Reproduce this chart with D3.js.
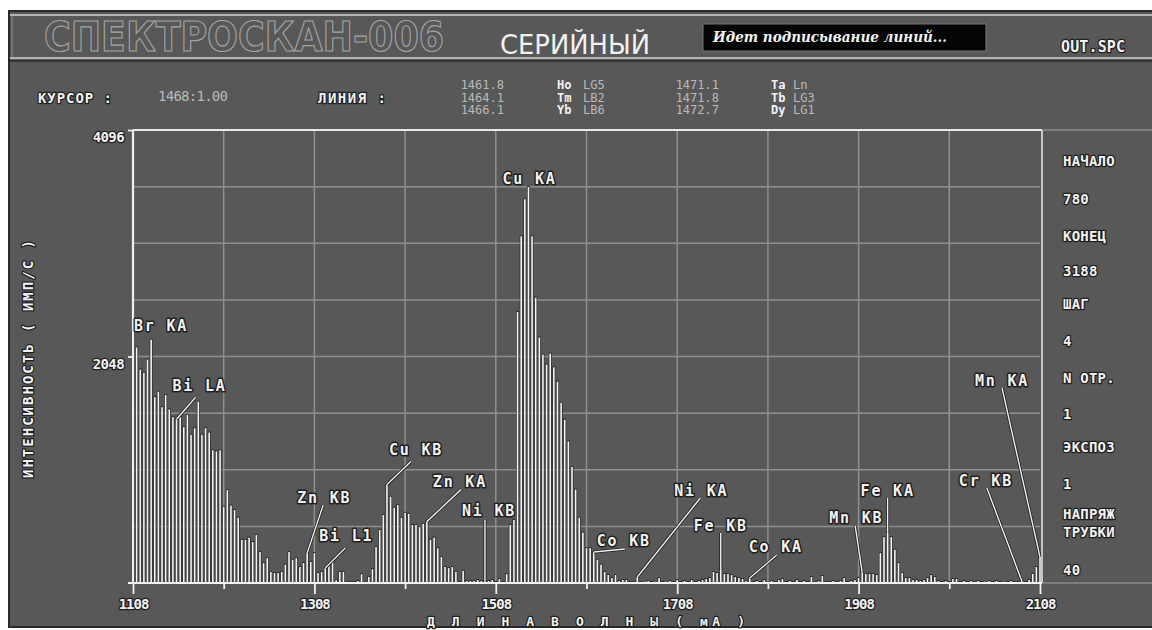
<!DOCTYPE html>
<html>
<head>
<meta charset="utf-8">
<script src="https://cdn.jsdelivr.net/npm/d3@7"></script>
<style>
  html, body { margin: 0; padding: 0; background: #ffffff; }
  svg { display: block; font-family: "DejaVu Sans Mono", monospace; }
</style>
</head>
<body>
<svg id="chart" width="1152" height="630"></svg>
<script>
// ---- spectrum: intensity (counts/s) per channel, 1108..2108 mA in steps of 4 ----
const wavelengthStart = 1108;
const wavelengthStep = 4;
const intensity = [
  2250, 2130, 1930, 1900, 2020, 2200, 1680, 1730, 1590, 1700,
  1570, 1500, 1480, 1500, 1410, 1520, 1340, 1400, 1640, 1340,
  1400, 1360, 1200, 1190, 1200,  690,  840,  700,  660,  590,
   390,  390,  410,  370,  435,  280,  180,  225,  100,   90,
    90,  100,  165,  280,  210,  225,  145,  180,  270,  190,
   270,   90,  100,  135,  165,  190,   25,  100,  100,   10,
    10,   10,   18,   80,   10,   55,  125,  325,  480,  615,
   890,  780,  680,  705,  590,  635,  625,  525,  525,  505,
   535,  555,  390,  410,  315,  235,  145,  135,  145,  100,
    10,  110,   18,   18,   18,   27,   18,    9,   18,   27,
     9,   36,    9,   80,  525,  570, 2450, 3135, 3470, 3580,
  3135, 2580, 2220, 2065, 1975, 2075, 1950, 1820, 1630, 1475,
  1280, 1050,  845,  590,  455,  315,  315,  280,  210,  165,
   100,   72,   45,   72,   18,   27,   27,    9,    9,   54,
     9,    0,   18,    9,    0,   45,    9,    0,   18,    9,
    27,    9,   18,    9,   27,    9,   18,   27,   36,   45,
   100,   90,  118,   82,   82,   72,   54,   45,   36,   18,
    45,    9,   18,    9,   27,    0,   18,    9,   27,   36,
     9,   18,    9,   27,    9,   18,    9,   54,    9,   18,
    63,    9,    9,   18,    9,   18,   45,    9,   18,   27,
    45,   91,   82,   82,   82,   72,  270,  415,  455,  415,
   300,  180,   90,   45,   45,   27,   27,   18,   27,   45,
    72,   54,   18,    9,   18,    9,   36,   36,    9,   18,
     9,   18,    9,   18,    9,    0,   18,    9,   18,    9,
     0,    9,   18,    9,    9,   18,    9,   27,   82,  145,
   236
];

// ---- axes ----
const xGridValues = [1108, 1208, 1308, 1408, 1508, 1608, 1708, 1808, 1908, 2008, 2108];
const xTickLabels = ["1108", "1308", "1508", "1708", "1908", "2108"];
const yGridValues = [0, 512, 1024, 1536, 2048, 2560, 3072, 3584, 4096];
const yTickLabels = ["2048", "4096"];
const xTitle = "Д Л И Н А   В О Л Н Ы   ( мА )";
const yTitle = "ИНТЕНСИВНОСТЬ ( ИМП/С )";

// ---- identified lines ----
const peakNames = ["Br KA", "Bi LA", "Zn KB", "Bi L1", "Cu KB", "Zn KA", "Ni KB", "Cu KA",
                   "Co KB", "Ni KA", "Fe KB", "Co KA", "Mn KB", "Fe KA", "Cr KB", "Mn KA"];
const peakWavelengths = [1108, 1156, 1300, 1320, 1388, 1432, 1496, 1544,
                         1616, 1664, 1756, 1788, 1912, 1940, 2088, 2108];

// ---- header texts ----
const deviceName = "СПЕКТРОСКАН-006";
const modeName = "СЕРИЙНЫЙ";
const statusText = "Идет подписывание линий...";
const fileName = "OUT.SPC";
const cursorCaption = "КУРСОР :";
const cursorValue = "1468:1.00";
const lineCaption = "ЛИНИЯ :";
const lineWavelengths = ["1461.8", "1464.1", "1466.1", "1471.1", "1471.8", "1472.7"];
const lineElements = ["Ho", "Tm", "Yb", "Ta", "Tb", "Dy"];
const lineSeries = ["LG5", "LB2", "LB6", "Ln", "LG3", "LG1"];

// ---- measurement parameters panel ----
const panelNames = ["НАЧАЛО", "КОНЕЦ", "ШАГ", "N ОТР.", "ЭКСПОЗ", "НАПРЯЖ|ТРУБКИ"];
const panelValues = ["780", "3188", "4", "1", "1", "40"];

// ---------------------------------------------------------------------------
const svg = d3.select("#chart");
const W = 1152;
const plot = { left: 133, right: 1040, top: 130, bottom: 583 };
const BG = "#585858", GRID = "#8f8f8f", INK = "#f2f2f2", DIM = "#b9b9b9", HALO = "#1f1f1f";
const MONO = "'DejaVu Sans Mono', monospace";

const x = d3.scaleLinear().domain([1108, 2108]).range([plot.left, plot.right]);
const y = d3.scaleLinear().domain([0, 4096]).range([plot.bottom, plot.top]);

const spectrum = intensity.map((v, i) => ({ wl: wavelengthStart + i * wavelengthStep, v }));
const valueAt = wl => spectrum.find(d => d.wl === wl).v;

function halo(sel, w) {
  return sel.attr("stroke", HALO).attr("stroke-width", w || 3)
            .attr("stroke-linejoin", "round").attr("paint-order", "stroke");
}
function hline(x1, x2, yy, color, w) {
  svg.append("line").attr("x1", x1).attr("x2", x2).attr("y1", yy).attr("y2", yy)
    .attr("stroke", color).attr("stroke-width", w);
}
function vline(xx, y1, y2, color, w) {
  svg.append("line").attr("x1", xx).attr("x2", xx).attr("y1", y1).attr("y2", y2)
    .attr("stroke", color).attr("stroke-width", w);
}

// screen frame
svg.append("rect").attr("x", 8).attr("y", 10).attr("width", W - 8).attr("height", 618).attr("fill", BG);
hline(8, W, 11, "#2a2a2a", 2);
hline(10, W, 15, "#b4b4b4", 2);
hline(10, W, 58, "#b4b4b4", 2);
hline(10, W, 61, "#2e2e2e", 1.5);
vline(9, 10, 628, "#2a2a2a", 2);
vline(12, 16, 57, "#8a8a8a", 1);
hline(8, W, 627, "#2a2a2a", 2);

// ---- header ----
svg.append("text").text(deviceName)
  .attr("x", 44).attr("y", 51).style("font-family", "'DejaVu Sans', sans-serif").attr("font-weight", "bold")
  .attr("font-size", 40).attr("textLength", 400).attr("lengthAdjust", "spacingAndGlyphs")
  .attr("fill", BG).attr("stroke", "#a3a3a3").attr("stroke-width", 1.2);
svg.append("text").text(modeName)
  .attr("x", 500).attr("y", 54).style("font-family", "'DejaVu Sans', sans-serif")
  .attr("font-size", 26).attr("textLength", 150).attr("lengthAdjust", "spacingAndGlyphs")
  .attr("fill", INK);
svg.append("rect").attr("x", 703).attr("y", 24).attr("width", 283).attr("height", 27)
  .attr("fill", "#050505").attr("stroke", "#777").attr("stroke-width", 1);
svg.append("text").text(statusText)
  .attr("x", 713).attr("y", 42).style("font-family", "'DejaVu Serif', serif").attr("font-style", "italic")
  .attr("font-weight", "bold").attr("font-size", 14).attr("textLength", 234).attr("lengthAdjust", "spacingAndGlyphs")
  .attr("fill", INK);
svg.append("text").text(fileName)
  .attr("x", 1061).attr("y", 52).attr("font-size", 15).attr("font-weight", "bold").attr("textLength", 64)
  .attr("fill", INK).call(halo, 2.5);

// cursor / line row
svg.append("text").text(cursorCaption).attr("x", 38).attr("y", 103).attr("font-size", 14)
  .attr("font-weight", "bold").attr("textLength", 74).attr("fill", INK).call(halo, 2.5);
svg.append("text").text(cursorValue).attr("x", 158).attr("y", 101).attr("font-size", 14)
  .attr("textLength", 70).attr("fill", DIM);
svg.append("text").text(lineCaption).attr("x", 318).attr("y", 103).attr("font-size", 14)
  .attr("font-weight", "bold").attr("textLength", 68).attr("fill", INK).call(halo, 2.5);

const lineCols = [{ num: 504, el: 557, ser: 583 }, { num: 719, el: 771, ser: 793 }];
lineWavelengths.forEach((wl, i) => {
  const col = lineCols[Math.floor(i / 3)];
  const by = 89 + (i % 3) * 12.5;
  svg.append("text").text(wl).attr("x", col.num).attr("y", by).attr("text-anchor", "end")
    .attr("font-size", 12).attr("fill", DIM);
  svg.append("text").text(lineElements[i]).attr("x", col.el).attr("y", by)
    .attr("font-size", 12).attr("font-weight", "bold").attr("fill", INK);
  svg.append("text").text(lineSeries[i]).attr("x", col.ser).attr("y", by)
    .attr("font-size", 12).attr("fill", DIM);
});

// ---- plot area ----
const g = svg.append("g");

// grid
g.selectAll("line.vgrid").data(xGridValues.slice(1, -1)).join("line").attr("class", "vgrid")
  .attr("x1", d => x(d)).attr("x2", d => x(d)).attr("y1", plot.top).attr("y2", plot.bottom)
  .attr("stroke", GRID).attr("stroke-width", 1.5);
g.selectAll("line.hgrid").data(yGridValues.slice(1, -1)).join("line").attr("class", "hgrid")
  .attr("x1", plot.left).attr("x2", plot.right).attr("y1", d => y(d)).attr("y2", d => y(d))
  .attr("stroke", GRID).attr("stroke-width", 1.5);

// panel separators on the right
hline(plot.right + 3, W, plot.top, "#8a8a8a", 1.5);
hline(plot.right + 3, W, plot.bottom, "#8a8a8a", 1.5);

// spectrum bars (dark edge + white core)
const bars = spectrum.filter(d => d.v > 0);
g.selectAll("rect.edge").data(bars).join("rect").attr("class", "edge")
  .attr("x", d => x(d.wl) - 1.5).attr("width", 3)
  .attr("y", d => y(d.v) - 1).attr("height", d => plot.bottom - y(d.v) + 1)
  .attr("fill", "#2c2c2c");
g.selectAll("rect.bar").data(bars).join("rect").attr("class", "bar")
  .attr("x", d => x(d.wl) - 0.8).attr("width", 1.6)
  .attr("y", d => y(d.v)).attr("height", d => plot.bottom - y(d.v))
  .attr("fill", "#f4f4f4");

// frame: top, left, right
g.append("line").attr("x1", plot.left).attr("x2", plot.right + 2).attr("y1", plot.top).attr("y2", plot.top)
  .attr("stroke", "#e8e8e8").attr("stroke-width", 2);
g.append("line").attr("x1", plot.left).attr("x2", plot.left).attr("y1", plot.top).attr("y2", plot.bottom)
  .attr("stroke", "#f0f0f0").attr("stroke-width", 2.2);
g.append("line").attr("x1", plot.right + 2).attr("x2", plot.right + 2).attr("y1", plot.top).attr("y2", plot.bottom)
  .attr("stroke", "#e0e0e0").attr("stroke-width", 1.6);

// x axis
const xAxis = d3.axisBottom(x).tickValues(xGridValues).tickSize(6).tickPadding(10)
  .tickFormat(d => xTickLabels.includes(String(d)) ? String(d) : "");
const xa = g.append("g").attr("transform", `translate(0,${plot.bottom})`).call(xAxis);
xa.select(".domain").remove();
xa.selectAll(".tick line").attr("stroke", "#f0f0f0").attr("stroke-width", 1.8)
  .attr("y2", d => xTickLabels.includes(String(d)) ? 11 : 6);
xa.selectAll(".tick text").attr("fill", INK).attr("font-size", 14).style("font-family", MONO)
  .attr("font-weight", "bold").attr("letter-spacing", -1).call(halo, 2.5);
g.append("line").attr("x1", plot.left - 5).attr("x2", plot.right + 2).attr("y1", plot.bottom).attr("y2", plot.bottom)
  .attr("stroke", "#f4f4f4").attr("stroke-width", 2.2);

// y axis
const yAxis = d3.axisLeft(y).tickValues(yTickLabels.map(Number)).tickSize(5).tickPadding(4)
  .tickFormat(d => String(d));
const ya = g.append("g").attr("transform", `translate(${plot.left},0)`).call(yAxis);
ya.select(".domain").remove();
ya.selectAll(".tick line").attr("stroke", "#f0f0f0").attr("stroke-width", 1.8);
ya.selectAll(".tick text").attr("fill", INK).attr("font-size", 14).style("font-family", MONO)
  .attr("font-weight", "bold").attr("letter-spacing", -0.6).attr("dy", "0.85em").call(halo, 2.5);

// axis titles
svg.append("text").text(yTitle)
  .attr("transform", "translate(33,359) rotate(-90)").attr("text-anchor", "middle")
  .attr("font-size", 14).attr("font-weight", "bold").attr("textLength", 238).attr("fill", INK).call(halo, 2.5);
svg.append("text").text(xTitle)
  .attr("x", 427).attr("y", 626).attr("font-size", 13).attr("font-weight", "bold").attr("textLength", 318)
  .attr("fill", INK).call(halo, 2.5);

// ---- line labels with leaders ----
// offsets (px) from the bar top: text origin and the leader's upper end
const labelLayout = [
  { tx: 1, ty: -3 }, { tx: -4, ty: -28, lx: 19, ly: -22 }, { tx: -10, ty: -50, lx: 16, ly: -48 },
  { tx: -6, ty: -27, lx: 20, ly: -20 }, { tx: 2, ty: -30, lx: 24, ly: -23 }, { tx: 6, ty: -35, lx: 34, ly: -32 },
  { tx: -23, ty: -66, lx: 0, ly: -62 }, { tx: -26, ty: -3 }, { tx: 3, ty: -6, lx: 31, ly: -3 },
  { tx: 37, ty: -81, lx: 63, ly: -79 }, { tx: -27, ty: -39, lx: 0, ly: -37 }, { tx: -1, ty: -26, lx: 27, ly: -23 },
  { tx: -33, ty: -50, lx: -7, ly: -47 }, { tx: -27, ty: -37, lx: 0, ly: -35 }, { tx: -63, ty: -95, lx: -35, ly: -93 },
  { tx: -65, ty: -171, lx: -38, ly: -169 }
];
const labels = peakNames.map((name, i) => {
  const wl = peakWavelengths[i];
  return { name, px: x(wl), py: y(valueAt(wl)), lay: labelLayout[i] };
});
const lg = svg.append("g");
labels.filter(d => d.lay.lx !== undefined).forEach(d => {
  lg.append("line").attr("x1", d.px).attr("y1", d.py).attr("x2", d.px + d.lay.lx).attr("y2", d.py + d.lay.ly)
    .attr("stroke", HALO).attr("stroke-width", 3);
  lg.append("line").attr("x1", d.px).attr("y1", d.py).attr("x2", d.px + d.lay.lx).attr("y2", d.py + d.lay.ly)
    .attr("stroke", "#f0f0f0").attr("stroke-width", 1.4);
});
lg.selectAll("text").data(labels).join("text")
  .attr("x", d => d.px + d.lay.tx).attr("y", d => d.py + d.lay.ty)
  .attr("font-size", 15).attr("font-weight", "bold").attr("letter-spacing", 1.8).attr("fill", INK)
  .text(d => d.name).call(halo, 3);

// ---- parameter panel ----
const pg = svg.append("g");
const panelRows = [];
panelNames.forEach((n, i) => {
  n.split("|").forEach(part => panelRows.push({ t: part, kind: "name" }));
  panelRows.push({ t: panelValues[i], kind: "value" });
});
const panelY = [166, 204, 241, 276, 309, 346, 383, 419, 452, 489, 519, 537, 575];
pg.selectAll("text").data(panelRows).join("text")
  .attr("x", 1063).attr("y", (d, i) => panelY[i])
  .attr("font-size", 14).attr("font-weight", "bold").attr("letter-spacing", 0.2).attr("fill", INK)
  .text(d => d.t).call(halo, 2.5);
</script>
</body>
</html>
